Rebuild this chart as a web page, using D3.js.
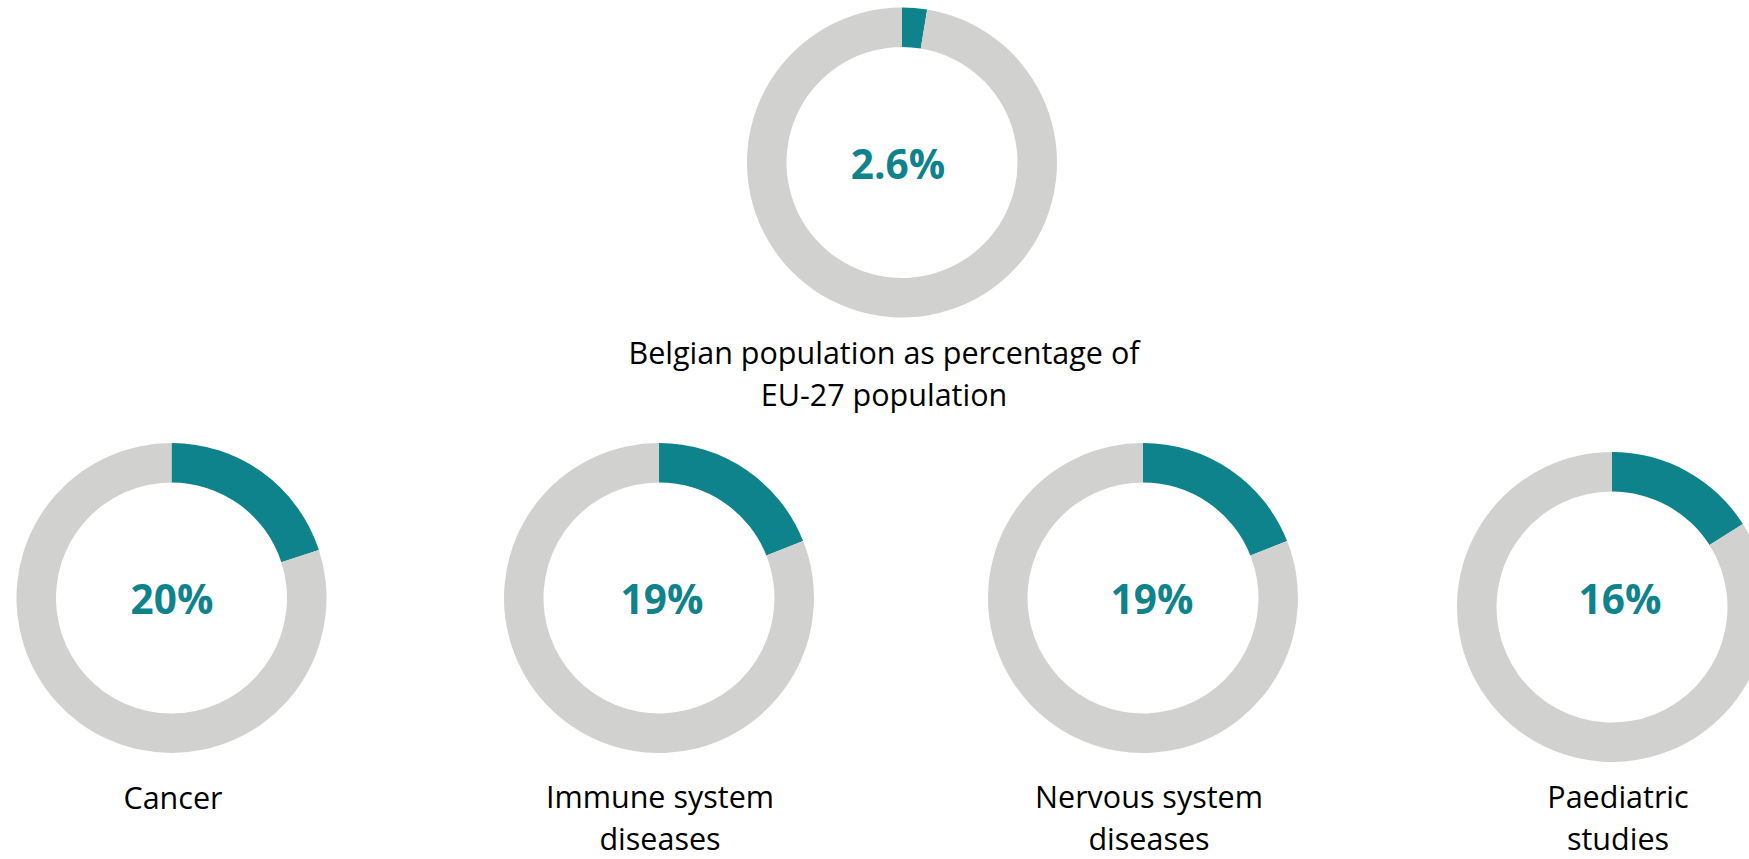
<!DOCTYPE html>
<html>
<head>
<meta charset="utf-8">
<script src="https://cdn.jsdelivr.net/npm/d3@7"></script>
<style>
  html, body { margin: 0; padding: 0; background: #fff; }
  svg { display: block; }
</style>
</head>
<body>
<div id="chart"></div>
<script>
// data
const names = ["Belgium / EU-27", "Cancer", "Immune system diseases", "Nervous system diseases", "Paediatric studies"];
const shares = [2.6, 20, 19, 19, 16];
const valueLabels = ["2.6%", "20%", "19%", "19%", "16%"];
const labelLines = [
    ["Belgian population as percentage of", "EU-27 population"],
    ["Cancer"],
    ["Immune system", "diseases"],
    ["Nervous system", "diseases"],
    ["Paediatric", "studies"]
];

// layout
const width = 1749, height = 859;
const outerR = 155, innerR = 115.5;
const teal = "#0f838c", grey = "#d1d1d0";
const lineGap = 42;

// where each ring, its value and its label sit
const layout = [
    {cx: 902,   cy: 162.5, tx: 898,  ty: 164, lx: 884,  ly: 364},
    {cx: 171.5, cy: 598,   tx: 172,  ty: 599, lx: 173,  ly: 809},
    {cx: 659,   cy: 598,   tx: 662,  ty: 599, lx: 660,  ly: 808},
    {cx: 1143,  cy: 598,   tx: 1152, ty: 599, lx: 1149, ly: 808},
    {cx: 1612,  cy: 607,   tx: 1620, ty: 599, lx: 1618, ly: 808}
];

const svg = d3.select("#chart")
    .append("svg")
    .attr("width", width)
    .attr("height", height);

const pie = d3.pie()
    .sort(null)
    .value(d => d);

const arc = d3.arc()
    .innerRadius(innerR)
    .outerRadius(outerR);

const colour = d3.scaleOrdinal()
    .domain([0, 1])
    .range([teal, grey]);

names.forEach((name, i) => {
    const pos = layout[i];

    const g = svg.append("g")
        .attr("class", "donut")
        .attr("transform", `translate(${pos.cx},${pos.cy})`);

    g.selectAll("path")
        .data(pie([shares[i], 100 - shares[i]]))
        .enter()
        .append("path")
        .attr("d", arc)
        .attr("fill", (d, j) => colour(j));

    // value in the middle
    svg.append("text")
        .attr("x", pos.tx)
        .attr("y", pos.ty)
        .attr("dy", "0.36em")
        .attr("text-anchor", "middle")
        .style("font-family", "'Open Sans', sans-serif")
        .style("font-weight", 700)
        .style("font-size", "40.5px")
        .style("fill", teal)
        .text(valueLabels[i]);

    // label under the ring
    const label = svg.append("text")
        .attr("text-anchor", "middle")
        .style("font-family", "'Open Sans', sans-serif")
        .style("font-size", "30.5px")
        .style("fill", "#000");

    label.selectAll("tspan")
        .data(labelLines[i])
        .enter()
        .append("tspan")
        .attr("x", pos.lx)
        .attr("y", (d, j) => pos.ly + j * lineGap)
        .text(d => d);
});
</script>
</body>
</html>
